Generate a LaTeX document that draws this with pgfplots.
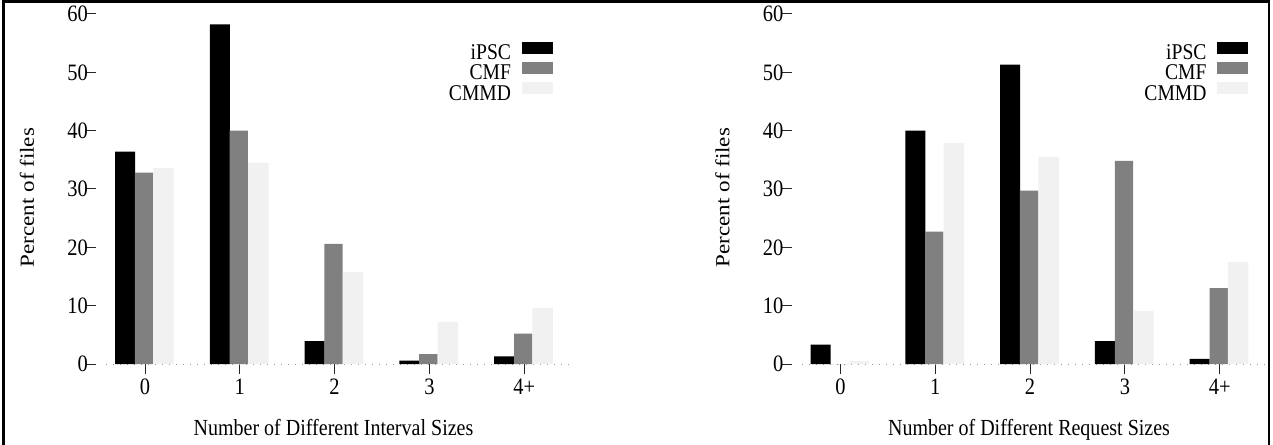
\documentclass[border=0pt]{standalone}
\usepackage{fontspec}
\setmainfont{Liberation Serif}[FakeStretch=0.87]
\newfontfamily\plainserif{Liberation Serif}
\usepackage{graphicx}
\usepackage{pgfplots}
\pgfplotsset{compat=1.18}
\definecolor{cmfgray}{gray}{0.5}
\definecolor{cmmdgray}{gray}{0.945}

\pgfplotstableread{
x ipsc cmf cmmd
0 36.4 32.8 33.6
1 58.2 40.0 34.5
2 3.9 20.6 15.8
3 0.6 1.7 7.2
4 1.3 5.2 9.6
}\intervaldata

\pgfplotstableread{
x ipsc cmf cmmd
0 3.3 0.0 0.5
1 40.0 22.7 37.9
2 51.3 29.7 35.5
3 3.9 34.8 9.1
4 0.9 13.0 17.5
}\requestdata

\pgfplotsset{
  panel/.style={
    scale only axis, width=475pt, height=350pt,
    anchor=south west,
    xmin=-0.517, xmax=4.494, ymin=0, ymax=60,
    axis line style={draw=none},
    tick pos=left,
    xtick={0,1,2,3,4}, xticklabels={0,1,2,3,4+},
    ytick={0,10,20,30,40,50,60}, yticklabels={0,10,20,30,40,50,60},
    tick align=outside, major tick length=10pt,
    tick style={black!85, line width=1pt},
    tick label style={font=\fontsize{23.5}{27}\selectfont},
    xticklabel style={inner sep=0pt, yshift=-5pt},
    yticklabel style={inner sep=0pt, xshift=2pt},
    label style={font=\fontsize{23}{27}\selectfont},
    xlabel style={at={(axis description cs:0.5,0)}, anchor=base, yshift=-71pt},
    ylabel style={at={(axis description cs:-0.1453,0.4757)}, anchor=center},
    legend style={at={(axis description cs:0.962,0.92)}, anchor=north east,
      draw=none, fill=none, inner sep=0pt, outer sep=0pt, row sep=-3pt, column sep=11pt,
      font=\fontsize{22.5}{26}\selectfont,
      nodes={inner sep=0pt, text height=15pt, text depth=5.5pt}},
    legend plot pos=right, legend cell align=right,
    clip=false,
  },
  mybar/.style={ybar, draw=none,
    legend image code/.code={\fill[##1] (0pt,1pt) rectangle (31pt,13pt);}},
}

\begin{document}
\begin{tikzpicture}
\path[use as bounding box] (0,0) rectangle (1273pt,444pt);

\begin{axis}[panel, at={(96pt,80pt)},
  xlabel={Number of Different Interval Sizes},
  ylabel={\scalebox{1}[0.87]{\plainserif Percent of files}}]
\draw[black!40, line width=1pt, dash pattern=on 1pt off 6pt] (axis cs:-0.411,0) -- (axis cs:4.494,0);
\addplot[mybar, fill=black, bar width=0.211, bar shift=-0.211] table[x=x, y=ipsc] {\intervaldata};
\addplot[mybar, fill=cmfgray, bar width=0.193, bar shift=-0.0105] table[x=x, y=cmf] {\intervaldata};
\addplot[mybar, fill=cmmdgray, bar width=0.216, bar shift=0.195] table[x=x, y=cmmd] {\intervaldata};
\legend{iPSC,CMF,CMMD}
\end{axis}

\begin{axis}[panel, at={(791.5pt,80pt)},
  xlabel={Number of Different Request Sizes},
  ylabel={\scalebox{1}[0.87]{\plainserif Percent of files}}]
\draw[black!40, line width=1pt, dash pattern=on 1pt off 6pt] (axis cs:-0.411,0) -- (axis cs:4.494,0);
\addplot[mybar, fill=black, bar width=0.211, bar shift=-0.211] table[x=x, y=ipsc] {\requestdata};
\addplot[mybar, fill=cmfgray, bar width=0.193, bar shift=-0.0105] table[x=x, y=cmf] {\requestdata};
\addplot[mybar, fill=cmmdgray, bar width=0.216, bar shift=0.195] table[x=x, y=cmmd] {\requestdata};
\legend{iPSC,CMF,CMMD}
\end{axis}

\draw[line width=2.5pt] (3.7pt,-5pt) -- (3.7pt,442.7pt) -- (1268.8pt,442.7pt) -- (1268.8pt,-5pt);
\end{tikzpicture}
\end{document}
